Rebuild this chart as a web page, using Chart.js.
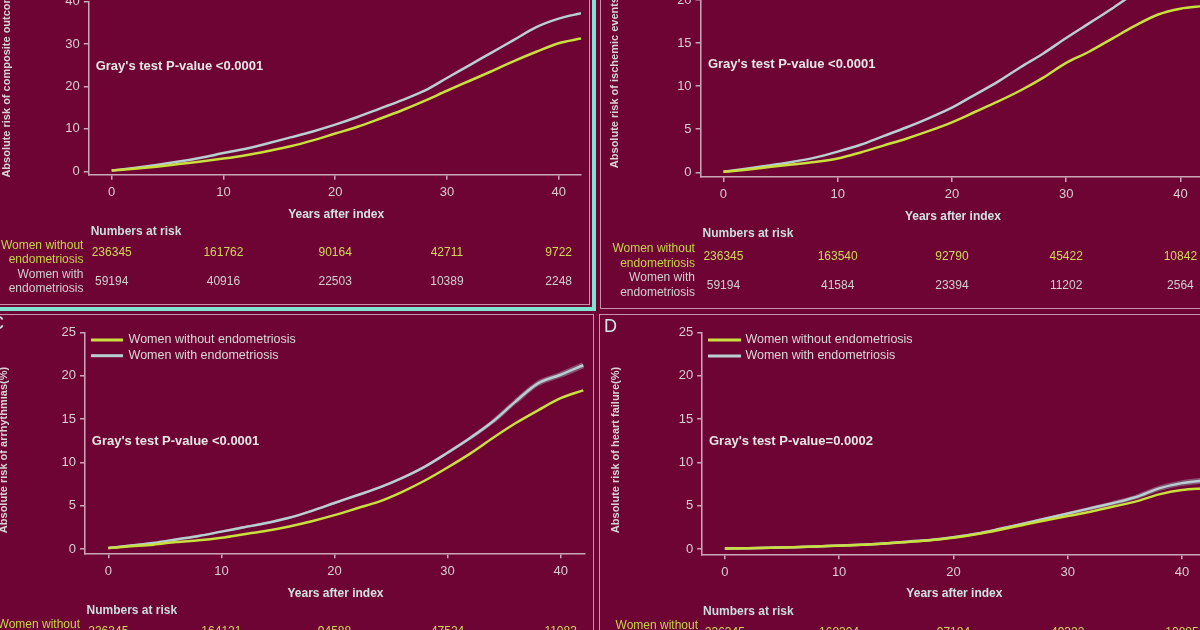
<!DOCTYPE html>
<html>
<head>
<meta charset="utf-8">
<script src="https://cdn.jsdelivr.net/npm/chart.js@4.4.0/dist/chart.umd.min.js"></script>
<style>
html, body { margin: 0; padding: 0; width: 1200px; height: 630px; overflow: hidden; background: #6e0434; }
canvas { position: absolute; }
.frame { position: absolute; box-sizing: border-box; }
</style>
</head>
<body>
<div class="frame" style="left:-10px;top:-10px;width:606px;height:321px;border:4px solid #7fe3d2"></div>
<div class="frame" style="left:-10px;top:-10px;width:600px;height:315px;border:1.5px solid #c890ab"></div>
<div class="frame" style="left:599.5px;top:-10px;width:700px;height:318.5px;border:1.5px solid #c890ab"></div>
<div class="frame" style="left:-10px;top:314px;width:603.5px;height:400px;border:1.5px solid #c890ab"></div>
<div class="frame" style="left:599px;top:313.5px;width:700px;height:400px;border:1.5px solid #c890ab"></div>

<canvas id="cA" width="592" height="344" style="left:0px;top:-40px"></canvas>
<canvas id="cB" width="620" height="388" style="left:600px;top:-80px"></canvas>
<canvas id="cC" width="603" height="340" style="left:-10px;top:300px"></canvas>
<canvas id="cD" width="620" height="340" style="left:602px;top:300px"></canvas>

<script>
// years after index
var years = [0, 2, 4, 6, 8, 10, 12, 14, 16, 18, 20, 22, 24, 26, 28, 30, 32, 34, 36, 38, 40, 42];

// A - composite outcome (%)
var compWithout = [0.2, 0.6, 1.1, 1.7, 2.3, 3.0, 3.8, 4.8, 5.9, 7.3, 8.9, 10.5, 12.4, 14.4, 16.6, 19.0, 21.3, 23.6, 26.0, 28.2, 30.2, 31.3];
var compWith = [0.2, 0.8, 1.5, 2.3, 3.2, 4.3, 5.3, 6.6, 8.0, 9.4, 11.0, 12.8, 14.8, 16.8, 19.0, 22.0, 25.0, 28.0, 31.0, 34.0, 36.0, 37.3];
// B - ischemic events (%)
var ischWithout = [0.05, 0.3, 0.6, 0.9, 1.2, 1.6, 2.3, 3.1, 3.9, 4.8, 5.8, 7.0, 8.2, 9.5, 11.0, 12.7, 14.0, 15.5, 17.0, 18.3, 19.0, 19.3];
var ischWith = [0.05, 0.4, 0.8, 1.2, 1.7, 2.4, 3.2, 4.2, 5.2, 6.3, 7.5, 9.0, 10.5, 12.2, 13.8, 15.6, 17.3, 19.0, 20.8, 22.4, 23.6, 24.4];
// C - arrhythmias (%)
var arrhWithout = [0.1, 0.3, 0.5, 0.8, 1.0, 1.3, 1.7, 2.1, 2.6, 3.2, 3.9, 4.7, 5.5, 6.6, 7.9, 9.4, 11.0, 12.8, 14.5, 16.0, 17.4, 18.3];
var arrhWith = [0.1, 0.4, 0.7, 1.1, 1.5, 2.0, 2.5, 3.0, 3.6, 4.4, 5.3, 6.2, 7.1, 8.2, 9.5, 11.1, 12.8, 14.7, 17.0, 19.1, 20.1, 21.2];
// D - heart failure (%)
var hfWithout = [0.05, 0.1, 0.15, 0.2, 0.3, 0.38, 0.5, 0.63, 0.82, 1.02, 1.3, 1.7, 2.2, 2.75, 3.3, 3.8, 4.3, 4.9, 5.5, 6.3, 6.8, 7.0];
var hfWith = [0.05, 0.1, 0.15, 0.2, 0.3, 0.4, 0.5, 0.65, 0.85, 1.05, 1.35, 1.75, 2.3, 2.9, 3.5, 4.1, 4.7, 5.3, 6.0, 7.0, 7.6, 7.9];

// numbers at risk
var riskTimes = [0, 10, 20, 30, 40];
var compRiskWithout = [236345, 161762, 90164, 42711, 9722];
var compRiskWith = [59194, 40916, 22503, 10389, 2248];
var ischRiskWithout = [236345, 163540, 92790, 45422, 10842];
var ischRiskWith = [59194, 41584, 23394, 11202, 2564];
var arrhRiskWithout = [236345, 164121, 94588, 47524, 11083];
var arrhRiskWith = [59194, 41790, 23890, 11702, 2648];
var hfRiskWithout = [236345, 168304, 97184, 49322, 10885];
var hfRiskWith = [59194, 42301, 24615, 12112, 2703];

var groupLabels = ['Women without endometriosis', 'Women with endometriosis'];
var rowLabels = [['Women without', 'endometriosis'], ['Women with', 'endometriosis']];

var withoutColor = '#c9df3e';
var withColor = '#b7cfd0';
var axisColor = '#c9a7b9';
var tickColor = '#d8ced3';
var FONT = '"Liberation Sans", Arial, sans-serif';

function pts(vals) {
  return years.map(function (y, i) { return { x: y, y: vals[i] }; });
}

function makeExtras(p) {
  return {
    id: 'extras',
    afterDraw: function (chart) {
      var ctx = chart.ctx, xs = chart.scales.x;
      var X = function (v) { return v - p.left; };
      var Y = function (v) { return v - p.top; };
      ctx.save();
      ctx.textBaseline = 'middle';

      // y axis title
      ctx.save();
      ctx.translate(X(p.yTitleX), Y(p.yTitleY));
      ctx.rotate(-Math.PI / 2);
      ctx.font = 'bold 11px ' + FONT;
      ctx.fillStyle = '#d9d3d6';
      ctx.textAlign = 'center';
      ctx.fillText(p.yTitle, 0, 0);
      ctx.restore();

      // panel letter
      if (p.letter) {
        ctx.font = '18px ' + FONT;
        ctx.fillStyle = '#cfe6e6';
        ctx.textAlign = 'left';
        ctx.fillText(p.letter, X(p.letterX), Y(p.letterY));
      }

      // test annotation
      ctx.font = 'bold 13px ' + FONT;
      ctx.fillStyle = '#e6e6e6';
      ctx.textAlign = 'left';
      ctx.fillText(p.pText, X(p.pX), Y(p.pY));

      // x title
      ctx.font = 'bold 12px ' + FONT;
      ctx.fillStyle = '#d2e2e2';
      ctx.textAlign = 'center';
      ctx.fillText('Years after index', xs.getPixelForValue(20) + 1, Y(p.xTitleY));

      // numbers at risk
      ctx.textAlign = 'left';
      ctx.fillStyle = '#cadede';
      ctx.fillText('Numbers at risk', X(p.narX), Y(p.narY));

      ctx.font = '12px ' + FONT;
      ctx.textAlign = 'right';
      var labelColors = ['#c6d24a', '#cfcfd0'];
      rowLabels.forEach(function (pair, i) {
        ctx.fillStyle = labelColors[i];
        pair.forEach(function (t, j) {
          ctx.fillText(t, X(p.rowX), Y(p.rowY[i * 2 + j]));
        });
      });

      ctx.textAlign = 'center';
      var numColors = ['#d2d65a', '#d0d0d0'];
      [p.riskWithout, p.riskWith].forEach(function (row, i) {
        ctx.fillStyle = numColors[i];
        row.forEach(function (n, k) {
          ctx.fillText(String(n), xs.getPixelForValue(riskTimes[k]), Y(p.numY[i]));
        });
      });

      // legend
      if (p.legend) {
        var cols = [withoutColor, withColor];
        ctx.font = '12.5px ' + FONT;
        ctx.textAlign = 'left';
        groupLabels.forEach(function (lab, i) {
          var yy = Y(p.legendY[i]);
          ctx.strokeStyle = cols[i];
          ctx.lineWidth = 3;
          ctx.beginPath();
          ctx.moveTo(X(p.legendX0), yy);
          ctx.lineTo(X(p.legendX1), yy);
          ctx.stroke();
          ctx.fillStyle = '#d9d9d9';
          ctx.fillText(lab, X(p.legendTextX), yy);
        });
      }
      ctx.restore();
    }
  };
}

function makeChart(p) {
  var yW = 40, xH = 30;
  var cv = document.getElementById(p.id);
  var pad = {
    left: p.caL - p.left - yW,
    top: p.caT - p.top,
    right: p.left + cv.width - p.caR,
    bottom: p.top + cv.height - p.caB - xH
  };
  var datasets = [
    { label: groupLabels[1], data: pts(p.withVals), borderColor: withColor, borderWidth: 2.5, pointRadius: 0, cubicInterpolationMode: 'monotone', order: 1 },
    { label: groupLabels[0], data: pts(p.withoutVals), borderColor: withoutColor, borderWidth: 2.5, pointRadius: 0, cubicInterpolationMode: 'monotone', order: 0 }
  ];
  if (p.halo) {
    datasets.push({
      label: 'band', data: pts(p.withVals), borderColor: 'rgba(150,140,160,0.55)', borderWidth: 2.5,
      pointRadius: 0, cubicInterpolationMode: 'monotone', order: 2,
      segment: { borderWidth: function (c) { return 2.5 + Math.max(0, c.p0.parsed.x - 28) * 0.3; } }
    });
  }
  return new Chart(cv, {
    type: 'line',
    data: { datasets: datasets },
    options: {
      responsive: false,
      animation: false,
      layout: { padding: pad },
      plugins: { legend: { display: false }, tooltip: { enabled: false } },
      scales: {
        x: {
          type: 'linear', min: p.xMin, max: p.xMax,
          afterFit: function (s) { s.height = xH; },
          ticks: { stepSize: 10, includeBounds: false, color: tickColor, font: { size: 13, family: FONT }, padding: 5, maxRotation: 0 },
          grid: { drawOnChartArea: false, drawTicks: true, tickLength: 5, color: axisColor, lineWidth: 1.5 },
          border: { color: axisColor, width: 1.5 }
        },
        y: {
          min: p.yMin, max: p.yMax,
          afterFit: function (s) { s.width = yW; },
          ticks: { stepSize: p.yStep, includeBounds: false, color: tickColor, font: { size: 13, family: FONT }, padding: 4 },
          grid: { drawOnChartArea: false, drawTicks: true, tickLength: 5, color: axisColor, lineWidth: 1.5 },
          border: { color: axisColor, width: 1.5 }
        }
      }
    },
    plugins: [makeExtras(p)]
  });
}

makeChart({
  id: 'cA', left: 0, top: -40,
  caL: 88.8, caR: 581, caT: 1.7, caB: 174.7,
  xMin: -2.05, xMax: 42.0, yMin: -0.8, yMax: 40, yStep: 10,
  withVals: compWith, withoutVals: compWithout,
  riskWithout: compRiskWithout, riskWith: compRiskWith,
  yTitle: 'Absolute risk of composite outcome(%)', yTitleX: 7, yTitleY: 74,
  pText: "Gray's test P-value <0.0001", pX: 95.7, pY: 66,
  xTitleY: 215, narX: 90.7, narY: 232,
  rowX: 83.4, rowY: [246, 260, 275, 289], numY: [253, 282]
});

makeChart({
  id: 'cB', left: 600, top: -80,
  caL: 700.6, caR: 1207.8, caT: -42.95, caB: 177,
  xMin: -2.0, xMax: 42.4, yMin: -0.55, yMax: 25, yStep: 5,
  withVals: ischWith, withoutVals: ischWithout,
  riskWithout: ischRiskWithout, riskWith: ischRiskWith,
  yTitle: 'Absolute risk of ischemic events(%)', yTitleX: 615.3, yTitleY: 74,
  pText: "Gray's test P-value <0.0001", pX: 707.9, pY: 64.5,
  xTitleY: 217, narX: 702.6, narY: 234,
  rowX: 694.9, rowY: [249, 264, 278, 293], numY: [257, 286]
});

makeChart({
  id: 'cC', left: -10, top: 300,
  caL: 85, caR: 584.4, caT: 332.3, caB: 553.3,
  xMin: -2.06, xMax: 42.1, yMin: -0.5, yMax: 25, yStep: 5,
  withVals: arrhWith, withoutVals: arrhWithout, halo: true,
  riskWithout: arrhRiskWithout, riskWith: arrhRiskWith,
  yTitle: 'Absolute risk of arrhythmias(%)', yTitleX: 4, yTitleY: 450,
  letter: 'C', letterX: -9, letterY: 324,
  pText: "Gray's test P-value <0.0001", pX: 91.8, pY: 441,
  xTitleY: 594, narX: 86.5, narY: 611,
  rowX: 80, rowY: [625, 639, 654, 668], numY: [632, 661],
  legend: true, legendX0: 91, legendX1: 123, legendTextX: 128.6, legendY: [340, 355.7]
});

makeChart({
  id: 'cD', left: 602, top: 300,
  caL: 702.2, caR: 1209.4, caT: 332.3, caB: 554.3,
  xMin: -1.98, xMax: 42.4, yMin: -0.61, yMax: 25, yStep: 5,
  withVals: hfWith, withoutVals: hfWithout, halo: true,
  riskWithout: hfRiskWithout, riskWith: hfRiskWith,
  yTitle: 'Absolute risk of heart failure(%)', yTitleX: 616, yTitleY: 450,
  letter: 'D', letterX: 604, letterY: 327,
  pText: "Gray's test P-value=0.0002", pX: 709, pY: 441,
  xTitleY: 594, narX: 703, narY: 612,
  rowX: 698, rowY: [626, 640, 655, 669], numY: [633, 662],
  legend: true, legendX0: 708, legendX1: 741, legendTextX: 745.4, legendY: [340, 356]
});
</script>
</body>
</html>
